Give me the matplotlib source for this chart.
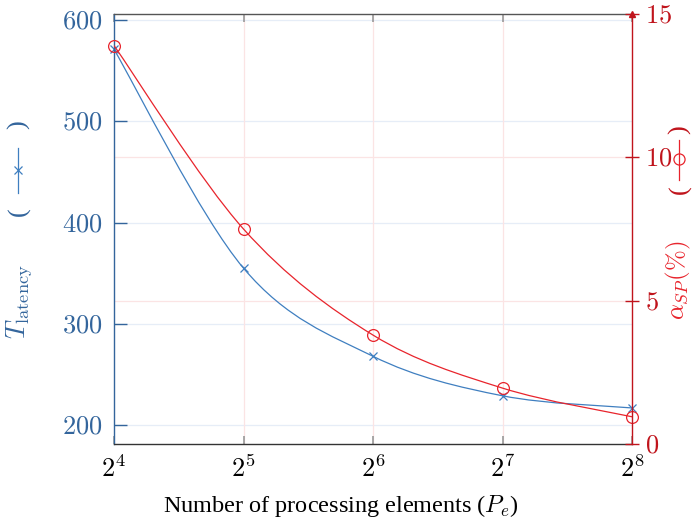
import numpy as np
import matplotlib
matplotlib.use("Agg")
import matplotlib.pyplot as plt
from matplotlib.path import Path
from matplotlib.patches import PathPatch
from matplotlib.lines import Line2D
from matplotlib.transforms import blended_transform_factory

# values
pe = [16, 32, 64, 128, 256]
pe_labels = ["$2^4$", "$2^5$", "$2^6$", "$2^7$", "$2^8$"]
latency = [571, 355, 268, 229, 217]
alpha_sp = [13.9, 7.5, 3.8, 1.95, 0.95]
lat_ticks = [200, 300, 400, 500, 600]
alpha_ticks = [0, 5, 10, 15]

BLUE_AX = "#33659c"
BLUE_LN = "#3f7fc0"
RED_AX = "#c0141c"
RED_LN = "#e8242c"
GRID_B = "#e6edf7"
GRID_R = "#fbe4e4"

plt.rcParams["font.family"] = ["Liberation Serif", "DejaVu Serif"]
plt.rcParams["mathtext.fontset"] = "cm"


def smooth_path(xs, ys, k=6.0):
    # cubic bezier through the points (catmull-rom style), built in log2(x)
    lx = np.log2(xs)
    p = np.column_stack([lx, ys]).astype(float)
    n = len(p)
    ext = np.vstack([p[0], p, p[-1]])
    verts = [p[0]]
    codes = [Path.MOVETO]
    for i in range(n - 1):
        a, b, c, d = ext[i], ext[i + 1], ext[i + 2], ext[i + 3]
        c1 = b + (c - a) / k
        c2 = c - (d - b) / k
        verts += [c1, c2, c]
        codes += [Path.CURVE4] * 3
    verts = np.array(verts)
    verts[:, 0] = 2.0 ** verts[:, 0]
    return Path(verts, codes)


fig = plt.figure(figsize=(6.92, 5.23), dpi=100)
ax = fig.add_axes([114 / 692, 1 - 444 / 523, (632 - 114) / 692, (444 - 14) / 523])
ax2 = ax.twinx()

ax.set_xscale("log", base=2)
ax.set_xlim(16, 256)
ax.set_ylim(181.4, 605.9)
ax2.set_ylim(0, 15)

ax.set_xticks(pe)
ax.set_xticklabels(pe_labels)
ax.xaxis.set_minor_locator(matplotlib.ticker.NullLocator())
ax.set_yticks(lat_ticks)
ax.set_yticklabels([f"${v}$" for v in lat_ticks])
ax2.set_yticks(alpha_ticks)
ax2.set_yticklabels([f"${v}$" for v in alpha_ticks])

# grids (all drawn on the lower axes so they stay under the curves)
for v in lat_ticks:
    ax.axhline(v, color=GRID_B, lw=0.9, zorder=0)
for x in pe[1:-1]:
    ax.axvline(x, color=GRID_R, lw=0.9, zorder=0)
tr_r = blended_transform_factory(ax.transAxes, ax2.transData)
for v in alpha_ticks[1:-1]:
    ax.plot([0, 1], [v, v], color=GRID_R, lw=0.9, zorder=0, transform=tr_r)

# curves
ax.add_patch(PathPatch(smooth_path(pe, latency), fill=False, ec=BLUE_LN, lw=0.9))
ax.plot(pe, latency, ls="none", marker="x", ms=6, mew=0.9, color=BLUE_LN, clip_on=False)
ax2.add_patch(PathPatch(smooth_path(pe, alpha_sp), fill=False, ec=RED_LN, lw=0.9))
ax2.plot(pe, alpha_sp, ls="none", marker="o", ms=8.5, mew=0.9, mfc="none", color=RED_LN,
         clip_on=False)

# spines and ticks
ax.spines["left"].set_color(BLUE_AX)
ax.spines["top"].set_color("#555555")
ax.spines["bottom"].set_color("#333333")
ax.spines["right"].set_visible(False)
for s in ["left", "top", "bottom"]:
    ax2.spines[s].set_visible(False)
ax2.spines["right"].set_color(RED_AX)
for s in ax.spines.values():
    s.set_linewidth(1.0)
ax2.spines["right"].set_linewidth(1.0)

ax.tick_params(axis="y", direction="in", length=9, width=1, colors=BLUE_AX,
               labelsize=19, pad=8)
ax.tick_params(axis="x", direction="in", length=6, width=1.2, color="#999999",
               labelcolor="black", labelsize=19, top=True, pad=8)
ax2.tick_params(axis="y", direction="inout", length=10, width=1, colors=RED_AX,
                labelsize=19, pad=4)

# arrow tip on the right axis
ax2.plot([1], [1], marker="^", ms=5, color=RED_AX, transform=ax2.transAxes, clip_on=False)

ax.set_xlabel("Number of processing elements ($P_e$)", fontsize=17.5)
ax.xaxis.set_label_coords((341 - 114) / 518, -0.115)


def fx(px):
    return px / 692


def fy(py):
    return 1 - py / 523


# left axis label with legend glyph
fig.text(fx(19), fy(302), r"$T_{\mathrm{latency}}$", rotation=90, ha="center", va="center",
         fontsize=19, color=BLUE_AX)
fig.text(fx(19), fy(212), "(", rotation=90, ha="center", va="center", fontsize=19,
         color=BLUE_AX)
fig.text(fx(19), fy(125), ")", rotation=90, ha="center", va="center", fontsize=19,
         color=BLUE_AX)
fig.add_artist(Line2D([fx(18), fx(18)], [fy(193), fy(148)], color=BLUE_LN, lw=0.9,
                      transform=fig.transFigure))
fig.add_artist(Line2D([fx(18)], [fy(170)], marker="x", ms=6, mew=0.9, color=BLUE_LN,
                      transform=fig.transFigure))

# right axis label with legend glyph
fig.text(fx(678), fy(280), r"$\alpha_{SP}(\%)$", rotation=90, ha="center", va="center",
         fontsize=18, color=RED_LN)
fig.text(fx(680), fy(190), "(", rotation=90, ha="center", va="center", fontsize=19,
         color=RED_AX)
fig.text(fx(680), fy(130), ")", rotation=90, ha="center", va="center", fontsize=19,
         color=RED_AX)
fig.add_artist(Line2D([fx(679), fx(679)], [fy(180), fy(140)], color=RED_LN, lw=0.9,
                      transform=fig.transFigure))
fig.add_artist(Line2D([fx(679)], [fy(159)], marker="o", ms=8, mew=0.9, mfc="none",
                      color=RED_LN, transform=fig.transFigure))

fig.savefig("out.png", dpi=100)
